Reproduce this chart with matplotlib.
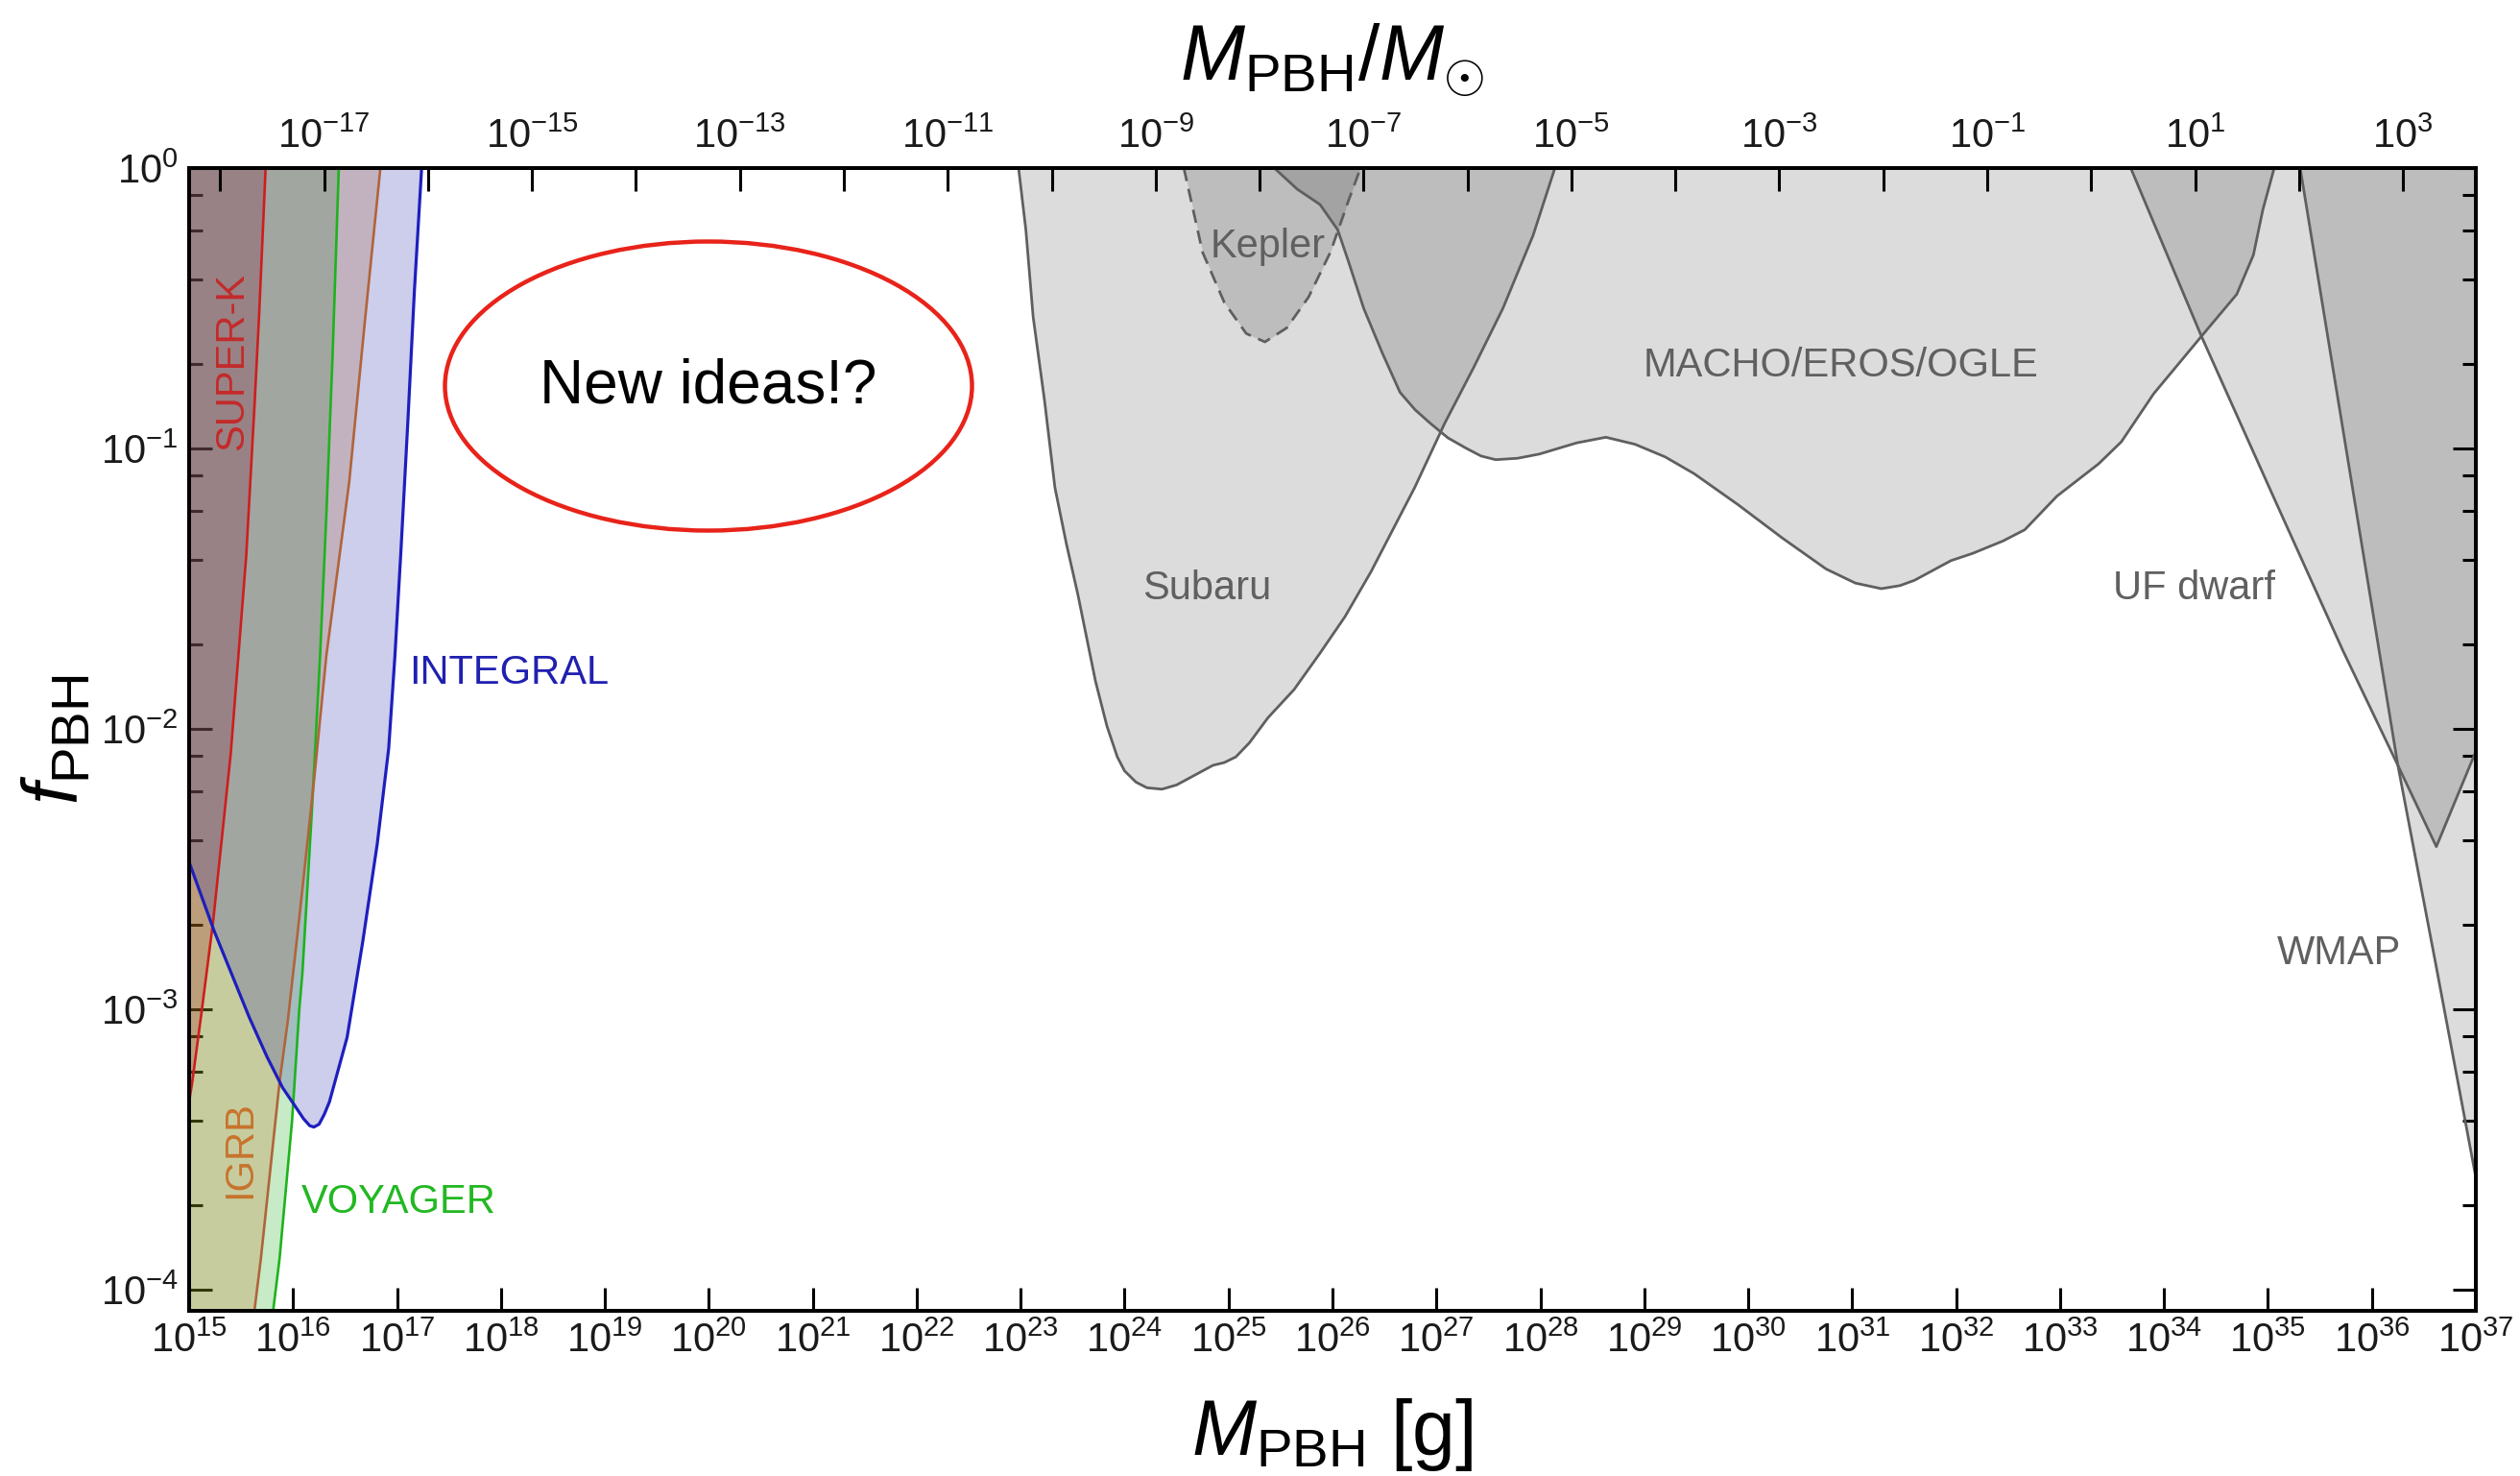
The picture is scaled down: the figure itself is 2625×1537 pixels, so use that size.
import numpy as np
import matplotlib
matplotlib.use('Agg')
import matplotlib.pyplot as plt
from matplotlib.patches import Ellipse
from matplotlib.ticker import NullFormatter, NullLocator, FixedLocator

plt.rcParams['font.family'] = ['Liberation Sans', 'DejaVu Sans']
plt.rcParams['mathtext.fontset'] = 'custom'
plt.rcParams['mathtext.rm'] = 'Liberation Sans'
plt.rcParams['mathtext.it'] = 'Liberation Sans:italic'
plt.rcParams['mathtext.bf'] = 'Liberation Sans:bold'

MSUN_G = 1.989e33

# ---------------- data: log10(M/g), log10(f_PBH) ----------------
superk_logm = [15.00, 15.03, 15.12, 15.23, 15.40, 15.55, 15.63, 15.674, 15.736]
superk_logf = [-3.33, -3.26, -3.01, -2.69, -2.09, -1.38, -0.84, -0.52, 0.0]

igrb_logm = [15.62, 15.69, 15.87, 15.95, 16.07, 16.20, 16.32, 16.54, 16.69, 16.84]
igrb_logf = [-4.10, -3.89, -3.26, -3.04, -2.64, -2.19, -1.74, -1.12, -0.55, 0.0]

voyager_logm = [15.80, 15.87, 15.99, 16.06, 16.09, 16.18, 16.26, 16.32, 16.38, 16.44]
voyager_logf = [-4.10, -3.89, -3.40, -3.00, -2.87, -2.30, -1.74, -1.24, -0.67, 0.0]

integral_logm = [15.00, 15.24, 15.58, 15.75, 15.90, 16.01, 16.10, 16.16, 16.20, 16.25,
                 16.30, 16.35, 16.52, 16.67, 16.81, 16.92, 16.98, 17.04, 17.105,
                 17.167, 17.237]
integral_logf = [-2.475, -2.72, -3.03, -3.17, -3.28, -3.34, -3.39, -3.415, -3.42, -3.41,
                 -3.375, -3.33, -3.10, -2.76, -2.41, -2.07, -1.74, -1.35, -0.90,
                 -0.44, 0.0]

subaru_logm = [22.98, 23.05, 23.12, 23.23, 23.33, 23.44, 23.55, 23.72, 23.83, 23.93,
               24.00, 24.11, 24.215, 24.36, 24.50, 24.60, 24.75, 24.85, 24.96, 25.07,
               25.20, 25.38, 25.63, 25.88, 26.12, 26.37, 26.58, 26.79, 27.08, 27.36,
               27.64, 27.93, 28.14]
subaru_logf = [0.0, -0.22, -0.53, -0.83, -1.14, -1.34, -1.52, -1.83, -1.99, -2.10,
               -2.15, -2.19, -2.21, -2.215, -2.20, -2.18, -2.15, -2.13, -2.12, -2.10,
               -2.05, -1.96, -1.86, -1.73, -1.60, -1.44, -1.29, -1.14, -0.91, -0.71,
               -0.50, -0.24, 0.0]

kepler_logm = [24.57, 24.75, 24.96, 25.17, 25.35, 25.56, 25.77, 25.98, 26.16, 26.27]
kepler_logf = [0.0, -0.30, -0.48, -0.59, -0.62, -0.57, -0.46, -0.30, -0.11, 0.0]

macho_logm = [25.44, 25.66, 25.88, 26.05, 26.16, 26.30, 26.48, 26.65, 26.795, 26.94,
              27.11, 27.29, 27.43, 27.57, 27.78, 27.99, 28.35, 28.63, 28.91, 29.20,
              29.48, 29.90, 30.33, 30.75, 31.03, 31.28, 31.46, 31.60, 31.81, 31.95,
              32.16, 32.45, 32.66, 32.97, 33.37, 33.59, 33.90, 34.36, 34.70, 34.86,
              34.95, 35.06]
macho_logf = [0.0, -0.075, -0.13, -0.22, -0.34, -0.50, -0.66, -0.80, -0.862, -0.91,
              -0.962, -1.00, -1.027, -1.04, -1.035, -1.02, -0.98, -0.96, -0.985, -1.03,
              -1.09, -1.20, -1.32, -1.43, -1.48, -1.50, -1.489, -1.47, -1.428, -1.40,
              -1.374, -1.33, -1.29, -1.17, -1.055, -0.976, -0.805, -0.60, -0.45, -0.31,
              -0.15, 0.0]

ufdwarf_logm = [33.68, 34.36, 35.05, 35.72, 36.25, 36.62, 37.0]
ufdwarf_logf = [0.0, -0.60, -1.17, -1.72, -2.13, -2.42, -2.08]

wmap_logm = [35.31, 36.25, 36.62, 37.0]
wmap_logf = [0.0, -2.13, -2.85, -3.60]

x_exps = list(range(15, 38))
y_exps = list(range(-4, 1))
top_exps = list(range(-18, 4))

# ---------------- figure ----------------
W, H = 2625, 1537
fig = plt.figure(figsize=(W / 100, H / 100), dpi=100)
L, R, T, B = 197, 2579, 175, 1365
ax = fig.add_axes([L / W, 1 - B / H, (R - L) / W, (B - T) / H])
ax.set_xscale('log')
ax.set_yscale('log')
ax.set_xlim(1e15, 1e37)
ax.set_ylim(10 ** (-4 - 22 / 292), 1.0)


def P(a):
    return 10.0 ** np.asarray(a, dtype=float)


gray_line = '#5f5f5f'
gray_alpha = 0.137
# gray (observational lensing / dynamical) constraints
for lm, lf, ls in [(subaru_logm, subaru_logf, '-'),
                   (kepler_logm, kepler_logf, (0, (5, 3))),
                   (macho_logm, macho_logf, '-'),
                   (ufdwarf_logm, ufdwarf_logf, '-'),
                   (wmap_logm, wmap_logf, '-')]:
    ax.fill_between(P(lm), P(lf), 10.0, color='k', alpha=gray_alpha, lw=0, zorder=1)
    ax.plot(P(lm), P(lf), color=gray_line, lw=2.0, ls=ls, zorder=3,
            solid_joinstyle='round')

# coloured evaporation constraints
ax.fill_betweenx(P(voyager_logf), 1e14, P(voyager_logm),
                 color=(0.0, 0.63, 0.0), alpha=0.22, lw=0, zorder=2)
ax.fill_betweenx(P(igrb_logf), 1e14, P(igrb_logm),
                 color=(0.78, 0.47, 0.16), alpha=0.26, lw=0, zorder=2)
ax.fill_betweenx(P(superk_logf), 1e14, P(superk_logm),
                 color=(0.60, 0.06, 0.06), alpha=0.24, lw=0, zorder=2)
ax.fill_between(P(integral_logm), P(integral_logf), 10.0,
                color=(0.12, 0.12, 0.67), alpha=0.22, lw=0, zorder=2)

ax.plot(P(voyager_logm), P(voyager_logf), color='#1db31d', lw=1.9, zorder=4)
ax.plot(P(igrb_logm), P(igrb_logf), color='#b0643a', lw=1.9, zorder=4)
ax.plot(P(superk_logm), P(superk_logf), color='#cd1e1e', lw=1.9, zorder=4)
ax.plot(P(integral_logm), P(integral_logf), color='#1e1ebe', lw=2.3, zorder=4,
        solid_joinstyle='round')

# region labels
fs = 30
gtxt = '#606060'
ax.text(10 ** 15.42, 10 ** -0.69, 'SUPER-K', color='#c42a2a', fontsize=fs,
        rotation=90, ha='center', va='center', zorder=5)
ax.text(10 ** 15.495, 10 ** -3.50, 'IGRB', color='#c8732d', fontsize=fs,
        rotation=90, ha='center', va='center', zorder=5)
ax.text(10 ** 17.12, 10 ** -1.80, 'INTEGRAL', color='#2020b0', fontsize=fs,
        ha='left', va='center', zorder=5)
ax.text(10 ** 16.08, 10 ** -3.69, 'VOYAGER', color='#22b822', fontsize=fs,
        ha='left', va='center', zorder=5)
ax.text(10 ** 25.38, 10 ** -0.28, 'Kepler', color=gtxt, fontsize=fs,
        ha='center', va='center', zorder=5)
ax.text(10 ** 30.89, 10 ** -0.705, 'MACHO/EROS/OGLE', color=gtxt, fontsize=fs,
        ha='center', va='center', zorder=5)
ax.text(10 ** 24.79, 10 ** -1.50, 'Subaru', color=gtxt, fontsize=fs,
        ha='center', va='center', zorder=5)
ax.text(10 ** 34.29, 10 ** -1.50, 'UF dwarf', color=gtxt, fontsize=fs,
        ha='center', va='center', zorder=5)
ax.text(10 ** 35.68, 10 ** -2.80, 'WMAP', color=gtxt, fontsize=fs,
        ha='center', va='center', zorder=5)

# "New ideas!?" bubble
ax.add_patch(Ellipse(((738 - L) / (R - L), (B - 402) / (B - T)),
                     549 / (R - L), 301 / (B - T), transform=ax.transAxes,
                     fill=False, edgecolor='#e8231a', lw=3.2, zorder=6))
ax.text((738 - L) / (R - L), (B - 402) / (B - T), 'New ideas!?', transform=ax.transAxes,
        fontsize=46, color='black', ha='center', va='center', zorder=6)

# ticks
ax.set_xticks([10.0 ** k for k in x_exps],
              [r'$\mathregular{10^{%d}}$' % k for k in x_exps])
ax.xaxis.set_minor_locator(NullLocator())
ax.set_yticks([10.0 ** k for k in y_exps],
              [r'$\mathregular{10^{%d}}$' % k for k in y_exps])
ax.yaxis.set_minor_locator(FixedLocator([m * 10.0 ** k for k in range(-5, 0)
                                         for m in (2, 4, 6, 8)]))
ax.yaxis.set_minor_formatter(NullFormatter())
ax.tick_params(axis='both', which='major', direction='in', length=17, width=2.2,
               labelsize=30, pad=8, labelcolor='#1a1a1a')
ax.tick_params(axis='y', which='both', left=True, right=True)
ax.tick_params(axis='y', which='minor', direction='in', length=10, width=2.2)
ax.tick_params(axis='x', which='both', top=False)
for s in ax.spines.values():
    s.set_linewidth(2.8)

ax2 = ax.twiny()
ax2.set_xscale('log')
ax2.set_xlim(1e15 / MSUN_G, 1e37 / MSUN_G)
ax2.set_xticks([10.0 ** k for k in top_exps],
               [(r'$\mathregular{10^{%d}}$' % k) if k % 2 else '' for k in top_exps])
ax2.xaxis.set_minor_locator(NullLocator())
ax2.tick_params(axis='x', which='major', direction='in', length=17, width=2.2,
                labelsize=30, pad=9, labelcolor='#1a1a1a')
for s in ax2.spines.values():
    s.set_linewidth(2.8)

# axis titles
cx = (L + R) / 2 / W
fig.text(cx, 1 - 1515 / H, r'$M_{\mathrm{PBH}}$ [g]', ha='center', va='baseline',
         fontsize=58)
fig.text(cx, 1 - 84 / H, r'$M_{\mathrm{PBH}}/M_{\odot}$', ha='center', va='baseline',
         fontsize=58)
fig.text(60 / W, 1 - 770 / H, r'$f_{\mathrm{PBH}}$', rotation=90, ha='center',
         va='center', fontsize=58)

fig.savefig('out.png', dpi=100, facecolor='white')
